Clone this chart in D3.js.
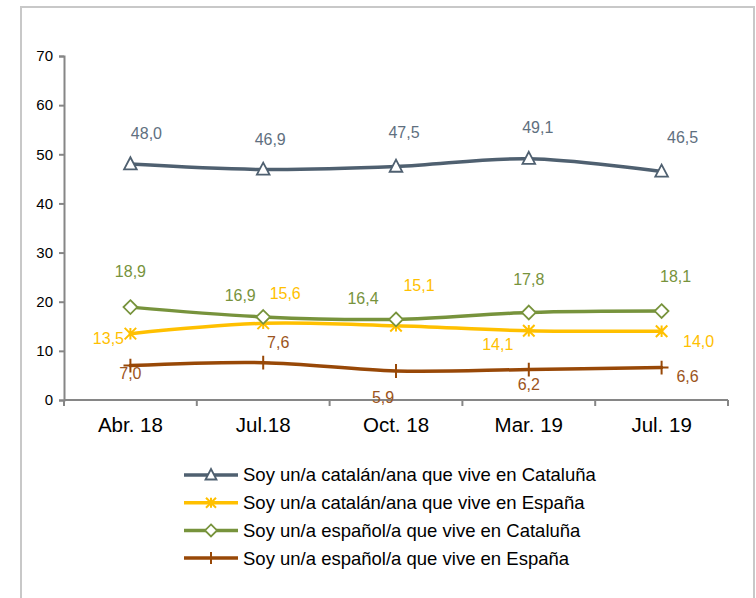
<!DOCTYPE html>
<html>
<head>
<meta charset="utf-8">
<script src="https://cdn.jsdelivr.net/npm/d3@7"></script>
<style>
  body { margin: 0; background: #fff; }
  svg { display: block; font-family: "Liberation Sans", Arial, sans-serif; }
</style>
</head>
<body>
<svg id="chart" width="756" height="598"></svg>
<script>
// data
var periods = ["Abr. 18", "Jul.18", "Oct. 18", "Mar. 19", "Jul. 19"];
var seriesNames = [
  "Soy un/a catalán/ana que vive en Cataluña",
  "Soy un/a catalán/ana que vive en España",
  "Soy un/a español/a que vive en Cataluña",
  "Soy un/a español/a que vive en España"
];
var catCataluna = [48.0, 46.9, 47.5, 49.1, 46.5];
var catEspana = [13.5, 15.6, 15.1, 14.1, 14.0];
var espCataluna = [18.9, 16.9, 16.4, 17.8, 18.1];
var espEspana = [7.0, 7.6, 5.9, 6.2, 6.6];
var yTicks = [0, 10, 20, 30, 40, 50, 60, 70];

// styling / layout
var lineColors = ["#4f6070", "#ffc000", "#77933c", "#984807"];
var labelColors = ["#5f7080", "#ffc000", "#77933c", "#9c5420"];
var markers = ["triangle", "star", "diamond", "plus"];
// label nudges [dx, dy] relative to each point
var labelNudge = [
  [[16, -31], [7, -30], [8, -34], [9, -31], [21, -34]],
  [[-22, 5], [22, -30], [23, -40], [-31, 14], [37, 10]],
  [[0, -36], [-23, -22], [-33, -21], [0, -33], [14, -35]],
  [[0, 8], [15, -20], [-13, 26], [0, 15], [26, 9]]
];

var allSeries = [catCataluna, catEspana, espCataluna, espEspana];

var svg = d3.select("#chart");

// outer frame
svg.append("rect")
  .attr("x", 21).attr("y", 7)
  .attr("width", 733).attr("height", 620)
  .attr("fill", "none")
  .attr("stroke", "#c8c8c8")
  .attr("stroke-width", 2);

var plotLeft = 64, plotRight = 728, plotTop = 56, plotBottom = 400;

var x = d3.scaleBand().domain(periods).range([plotLeft, plotRight]);
var y = d3.scaleLinear().domain([0, 70]).range([plotBottom, plotTop]);

function px(d, i) { return x(periods[i]) + x.bandwidth() / 2; }

// y axis
var yAxis = svg.append("g")
  .attr("transform", "translate(" + plotLeft + ",0)")
  .call(d3.axisLeft(y).tickValues(yTicks).tickSize(5).tickPadding(6).tickFormat(d3.format("d")));
yAxis.selectAll("path, line").attr("stroke", "#868686").attr("stroke-width", 2);
yAxis.selectAll("text").attr("font-size", 15).attr("fill", "#000")
  .attr("font-family", "Liberation Sans, Arial, sans-serif");

// x axis with ticks at band edges
var xAxis = svg.append("g")
  .attr("transform", "translate(0," + plotBottom + ")");
xAxis.append("line")
  .attr("x1", plotLeft).attr("x2", plotRight)
  .attr("stroke", "#868686").attr("stroke-width", 2);
var edges = periods.map(function(p) { return x(p); }).concat([plotRight]);
xAxis.selectAll(".tk").data(edges).enter().append("line")
  .attr("x1", function(d) { return d; }).attr("x2", function(d) { return d; })
  .attr("y1", 0).attr("y2", 6)
  .attr("stroke", "#868686").attr("stroke-width", 2);
xAxis.selectAll(".lbl").data(periods).enter().append("text")
  .text(function(d) { return d; })
  .attr("x", function(d) { return x(d) + x.bandwidth() / 2; })
  .attr("y", 32)
  .attr("text-anchor", "middle")
  .attr("font-size", 20.5)
  .attr("fill", "#000");

// markers
function drawMarker(g, type, color, cx, cy, s) {
  if (type === "triangle") {
    g.append("path")
      .attr("d", "M" + cx + "," + (cy - s * 0.6) + "L" + (cx + s * 0.55) + "," + (cy + s * 0.45) + "L" + (cx - s * 0.55) + "," + (cy + s * 0.45) + "Z")
      .attr("fill", "#fff").attr("stroke", color).attr("stroke-width", 1.8);
  } else if (type === "diamond") {
    g.append("path")
      .attr("d", "M" + cx + "," + (cy - s * 0.6) + "L" + (cx + s * 0.6) + "," + cy + "L" + cx + "," + (cy + s * 0.6) + "L" + (cx - s * 0.6) + "," + cy + "Z")
      .attr("fill", "#fff").attr("stroke", color).attr("stroke-width", 1.8);
  } else if (type === "star") {
    var h = s * 0.5;
    g.append("path")
      .attr("d", "M" + (cx - h) + "," + (cy - h) + "L" + (cx + h) + "," + (cy + h) +
        "M" + (cx + h) + "," + (cy - h) + "L" + (cx - h) + "," + (cy + h) +
        "M" + cx + "," + (cy - h) + "L" + cx + "," + (cy + h))
      .attr("fill", "none").attr("stroke", color).attr("stroke-width", 2);
  } else if (type === "plus") {
    var k = s * 0.6;
    g.append("path")
      .attr("d", "M" + cx + "," + (cy - k) + "L" + cx + "," + (cy + k) + "M" + (cx - k) + "," + cy + "L" + (cx + k) + "," + cy)
      .attr("fill", "none").attr("stroke", color).attr("stroke-width", 2);
  }
}

var line = d3.line()
  .x(function(d, i) { return px(d, i); })
  .y(function(d) { return y(d); })
  .curve(d3.curveCatmullRom.alpha(0.5));

allSeries.forEach(function(vals, s) {
  var g = svg.append("g");
  g.append("path")
    .datum(vals)
    .attr("d", line)
    .attr("fill", "none")
    .attr("stroke", lineColors[s])
    .attr("stroke-width", 3.5)
    .attr("stroke-linecap", "round");
  vals.forEach(function(v, i) {
    drawMarker(g, markers[s], lineColors[s], px(v, i), y(v), 11.5);
  });
});

// data labels on top
allSeries.forEach(function(vals, s) {
  svg.append("g").selectAll("text")
    .data(vals)
    .enter()
    .append("text")
    .text(function(d) { return d.toFixed(1).replace(".", ","); })
    .attr("x", function(d, i) { return px(d, i) + labelNudge[s][i][0]; })
    .attr("y", function(d, i) { return y(d) + labelNudge[s][i][1]; })
    .attr("dy", "0.35em")
    .attr("text-anchor", "middle")
    .attr("font-size", 16)
    .attr("fill", labelColors[s]);
});

// legend
var legend = svg.append("g").attr("transform", "translate(184,475)");
var rowH = 27.7;
seriesNames.forEach(function(name, i) {
  var row = legend.append("g").attr("transform", "translate(0," + (i * rowH) + ")");
  row.append("line")
    .attr("x1", 0).attr("x2", 54)
    .attr("stroke", lineColors[i]).attr("stroke-width", 3.5);
  drawMarker(row, markers[i], lineColors[i], 27, 0, 10);
  row.append("text")
    .text(name)
    .attr("x", 59)
    .attr("dy", "0.35em")
    .attr("font-size", 18.5)
    .attr("fill", "#000");
});
</script>
</body>
</html>
